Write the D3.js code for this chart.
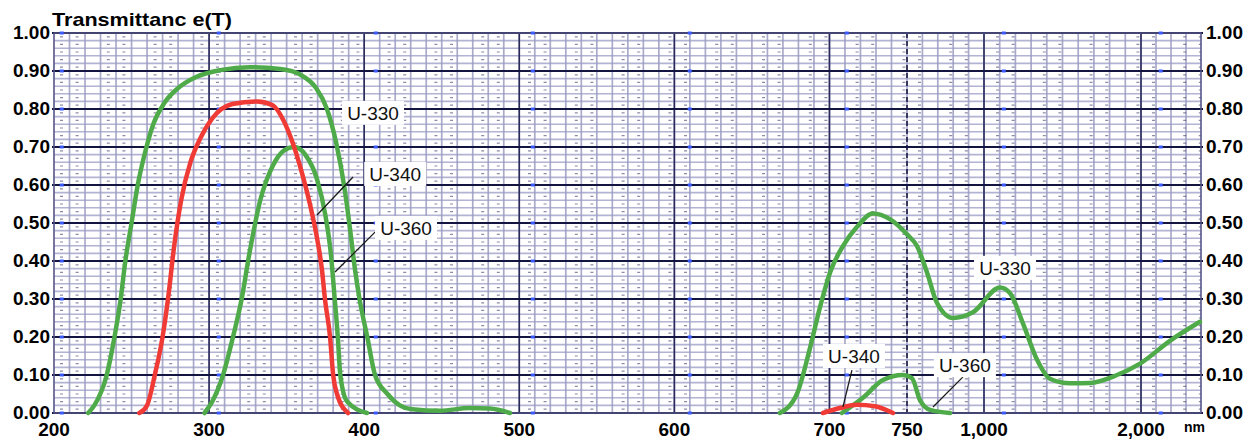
<!DOCTYPE html>
<html>
<head>
<meta charset="utf-8">
<script src="https://cdn.jsdelivr.net/npm/d3@7"></script>
<style>
  html, body { margin: 0; padding: 0; background: #fff; }
  svg { display: block; }
  .tick-label { font-family: "Liberation Sans", Arial, sans-serif; font-weight: bold; font-size: 19px; fill: #000; }
  .curve-label { font-family: "Liberation Sans", Arial, sans-serif; font-size: 19px; fill: #111; }
</style>
</head>
<body>
<div id="main"></div>
<script>
// wavelength ticks (nm) and transmittance ticks
var xTicks = [200, 300, 400, 500, 600, 700, 750, 1000, 2000];
var xTickLabels = ['200', '300', '400', '500', '600', '700', '750', '1,000', '2,000'];
var yTicks = [0, 0.1, 0.2, 0.3, 0.4, 0.5, 0.6, 0.7, 0.8, 0.9, 1.0];

// curves: [nm, T]
var u330uv = [[222,0],[226,0.02],[234,0.10],[239,0.20],[243,0.30],[246,0.40],[250,0.50],[254,0.60],
  [259,0.69],[264,0.76],[271,0.815],[280,0.855],[292,0.885],[308,0.903],[326,0.91],[346,0.905],[359,0.89],[369,0.855],
  [376,0.80],[382,0.71],[387,0.60],[391,0.48],[394,0.38],[397,0.30],[402,0.20],[407,0.10],[415,0.05],[423,0.02],
  [431,0.01],[449,0.006],[468,0.013],[481,0.012],[494,0]];
var u340uv = [[255,0],[260,0.02],[265,0.10],[270,0.20],[273.5,0.30],[277.5,0.44],[282,0.56],[288,0.66],[294,0.72],
  [302,0.775],[315,0.813],[331,0.82],[341,0.81],[348,0.77],[354,0.71],[360,0.63],[365,0.55],[369.6,0.46],
  [372.8,0.376],[374.7,0.30],[378,0.20],[380,0.10],[382.5,0.05],[389.6,0]];
var u360uv = [[297,0],[302,0.03],[309,0.10],[315.4,0.20],[321,0.30],[326,0.42],[333,0.56],[341,0.65],[348,0.69],
  [355,0.70],[362,0.68],[369.6,0.615],[375,0.52],[378.5,0.42],[381,0.30],[383,0.20],[384.6,0.10],
  [389,0.03],[401.8,0]];
var u330ir = [[668,0],[679,0.05],[687.4,0.17],[694,0.28],[700.4,0.37],[708.8,0.44],[717.8,0.49],[728,0.525],
  [739,0.51],[750,0.47],[782,0.44],[815,0.37],[847,0.29],[899,0.25],[964,0.265],[1102,0.33],[1166,0.315],
  [1248,0.236],[1338,0.14],[1420,0.09],[1548,0.078],[1675,0.079],[1847,0.10],[1994,0.13],[2193,0.19],[2393,0.24]];
var u340ir = [[695.8,0],[706.8,0.013],[717.7,0.022],[729.3,0.018],[741,0]];
var u360ir = [[708,0],[721.6,0.04],[734.5,0.087],[747.4,0.10],[766,0.092],[792,0.034],[825,0.008],[890,0]];

var seriesList = [
  { data: u330uv, color: '#4fab4a' },
  { data: u360uv, color: '#4fab4a' },
  { data: u340uv, color: '#f03a36' },
  { data: u330ir, color: '#4fab4a' },
  { data: u360ir, color: '#4fab4a' },
  { data: u340ir, color: '#f03a36' }
];

// labels: text, centre [nm, T], optional leader from/to [nm, T]
var labels = [
  { text: 'U-330', at: [405.7, 0.79] },
  { text: 'U-340', at: [420, 0.629], from: [392.8, 0.621], to: [369.6, 0.521] },
  { text: 'U-360', at: [427, 0.487], from: [407, 0.476], to: [381.2, 0.371] },
  { text: 'U-330', at: [1134, 0.382] },
  { text: 'U-340', at: [715.8, 0.15], from: [714.5, 0.113], to: [708.7, 0.016] },
  { text: 'U-360', at: [938, 0.126], from: [931.8, 0.095], to: [834.4, 0.016] }
];

var width = 1258, height = 444;

var x = d3.scaleLinear()
    .domain([200, 750, 1000, 2000, 2400])
    .range([54, 907, 984, 1141, 1201]);
var y = d3.scaleLinear().domain([0, 1]).range([413, 33]);

var svg = d3.select('#main').append('svg')
    .attr('width', width).attr('height', height);

var grid = svg.append('g');

// minor vertical lines
var vMinor = d3.range(200, 751, 10)
    .concat(d3.range(800, 1000, 50))
    .concat(d3.range(1000, 2401, 100));
grid.selectAll('line.vminor').data(vMinor).enter().append('line')
    .attr('x1', function(d) { return x(d); }).attr('x2', function(d) { return x(d); })
    .attr('y1', y(1)).attr('y2', y(0))
    .attr('stroke', '#8e8eb8').attr('stroke-width', 1.7).attr('stroke-opacity', 0.75);

// minor horizontal lines
grid.selectAll('line.hminor').data(d3.range(0, 51).map(function(i) { return i * 0.02; }))
    .enter().append('line')
    .attr('x1', x(200)).attr('x2', x(2400))
    .attr('y1', function(d) { return y(d); }).attr('y2', function(d) { return y(d); })
    .attr('stroke', '#9a9ac4').attr('stroke-width', 1.6).attr('stroke-opacity', 0.75);

// little dashes at odd hundredths
grid.selectAll('line.hdash').data(d3.range(0, 50).map(function(i) { return i * 0.02 + 0.01; }))
    .enter().append('line')
    .attr('x1', x(200)).attr('x2', x(2400))
    .attr('y1', function(d) { return y(d); }).attr('y2', function(d) { return y(d); })
    .attr('stroke', '#40406a').attr('stroke-width', 1.2).attr('stroke-opacity', 0.6)
    .attr('stroke-dasharray', '3,12.6,3,28.2').attr('stroke-dashoffset', -6);

// major vertical lines
var vMajor = [300, 400, 500, 600, 700, 1000, 2000];
grid.selectAll('line.vmajor').data(vMajor).enter().append('line')
    .attr('x1', function(d) { return x(d); }).attr('x2', function(d) { return x(d); })
    .attr('y1', y(1)).attr('y2', y(0))
    .attr('stroke', '#2a2a5a').attr('stroke-width', 1.6);
grid.append('line')
    .attr('x1', x(750)).attr('x2', x(750)).attr('y1', y(1)).attr('y2', y(0))
    .attr('stroke', '#1a1a40').attr('stroke-width', 1.6).attr('stroke-dasharray', '5,3');

// major horizontal lines
grid.selectAll('line.hmajor').data(yTicks).enter().append('line')
    .attr('x1', x(200) - 2).attr('x2', x(2400) + 2)
    .attr('y1', function(d) { return y(d); }).attr('y2', function(d) { return y(d); })
    .attr('stroke', '#141440').attr('stroke-width', 2);

// frame
grid.append('rect')
    .attr('x', x(200)).attr('y', y(1))
    .attr('width', x(2400) - x(200)).attr('height', y(0) - y(1))
    .attr('fill', 'none').attr('stroke', '#5a5a8a').attr('stroke-width', 1.4);

// blue marks on major lines
var blueCols = d3.range(0, 8).map(function(i) { return x(205) + i * 157; });
yTicks.forEach(function(t) {
  grid.selectAll(null).data(blueCols).enter().append('rect')
      .attr('x', function(d) { return d - 2; }).attr('y', y(t) - 1.5)
      .attr('width', 4).attr('height', 3).attr('fill', '#3c5cff');
});

// curves
var line = d3.line()
    .x(function(d) { return x(d[0]); })
    .y(function(d) { return y(d[1]); })
    .curve(d3.curveMonotoneX);

svg.append('g').selectAll('path').data(seriesList).enter().append('path')
    .attr('d', function(d) { return line(d.data); })
    .attr('fill', 'none')
    .attr('stroke', function(d) { return d.color; })
    .attr('stroke-width', 4.5)
    .attr('stroke-linejoin', 'round').attr('stroke-linecap', 'round');

// curve labels
var lg = svg.append('g');
labels.forEach(function(l) {
  if (l.from) {
    lg.append('line')
        .attr('x1', x(l.from[0])).attr('y1', y(l.from[1]))
        .attr('x2', x(l.to[0])).attr('y2', y(l.to[1]))
        .attr('stroke', '#1a1a1a').attr('stroke-width', 1.3);
  }
  var cx = x(l.at[0]), cy = y(l.at[1]);
  lg.append('rect')
      .attr('x', cx - 31).attr('y', cy - 12)
      .attr('width', 62).attr('height', 24)
      .attr('fill', '#fff');
  lg.append('text').attr('class', 'curve-label')
      .attr('x', cx).attr('y', cy + 7)
      .attr('text-anchor', 'middle')
      .text(l.text);
});

// y labels, both sides
var axisText = svg.append('g');
axisText.selectAll('text.yl').data(yTicks).enter().append('text')
    .attr('class', 'tick-label')
    .attr('x', x(200) - 4).attr('y', function(d) { return y(d) + 6; })
    .attr('text-anchor', 'end')
    .text(function(d) { return d.toFixed(2); });
axisText.selectAll('text.yr').data(yTicks).enter().append('text')
    .attr('class', 'tick-label')
    .attr('x', x(2400) + 5).attr('y', function(d) { return y(d) + 6; })
    .attr('text-anchor', 'start')
    .text(function(d) { return d.toFixed(2); });

// x labels
axisText.selectAll('text.xl').data(xTicks).enter().append('text')
    .attr('class', 'tick-label')
    .attr('x', function(d) { return x(d); }).attr('y', y(0) + 23)
    .attr('text-anchor', 'middle')
    .text(function(d, i) { return xTickLabels[i]; });
axisText.append('text')
    .attr('class', 'tick-label')
    .style('font-size', '14px')
    .attr('x', x(2400) - 17).attr('y', y(0) + 19)
    .text('nm');

// title
axisText.append('text')
    .attr('class', 'tick-label')
    .attr('x', x(200) - 2).attr('y', 26)
    .attr('textLength', 180).attr('lengthAdjust', 'spacingAndGlyphs')
    .text('Transmittanc e(T)');
</script>
</body>
</html>
